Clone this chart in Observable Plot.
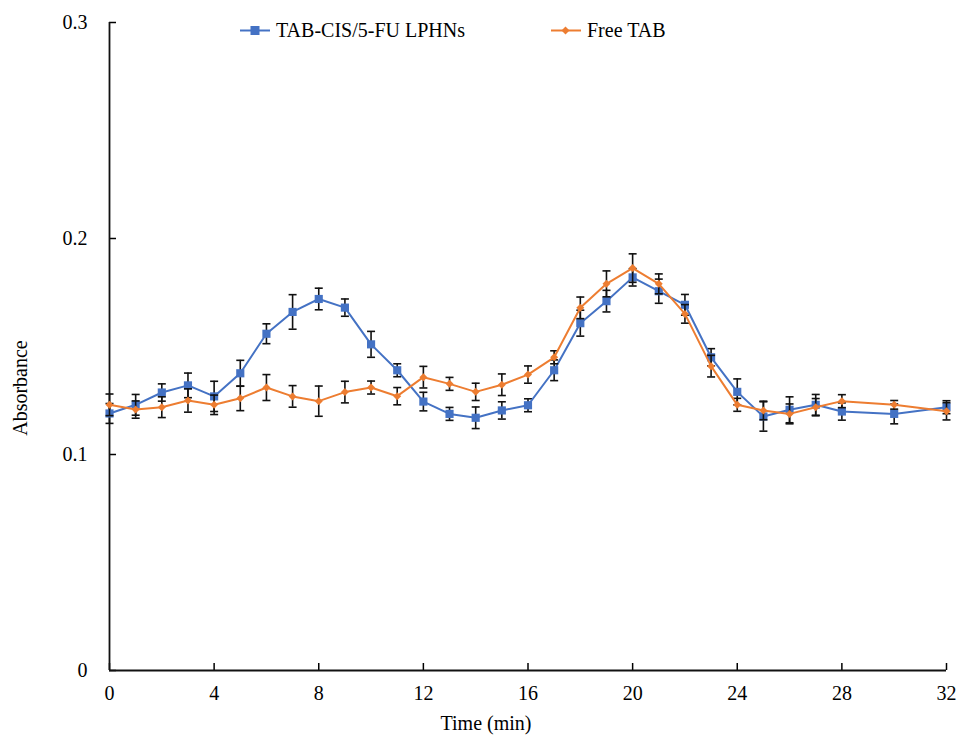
<!DOCTYPE html>
<html>
<head>
<meta charset="utf-8">
<script src="https://cdn.jsdelivr.net/npm/d3@7"></script>
<script src="https://cdn.jsdelivr.net/npm/@observablehq/plot@0.6"></script>
<style>
  html, body { margin: 0; padding: 0; background: #fff; overflow: hidden; }
  #wrap { position: relative; width: 959px; height: 738px; overflow: hidden; font-family: "Liberation Serif", "Times New Roman", serif; }
  #wrap > svg { position: absolute; left: 0; top: 0; z-index: 0; }
  #legend { position: absolute; top: 19px; left: 240px; z-index: 2; display: flex; align-items: center; font-size: 20px; color: #000; line-height: 22px; }
  .item { display: flex; align-items: center; }
  .item svg { margin-right: 6px; }
  #ylab { position: absolute; z-index: 2; left: 20px; top: 388px; font-size: 20px; color: #000; white-space: nowrap; transform: translate(-50%, -50%) rotate(-90deg); }
</style>
</head>
<body>
<div id="wrap"></div>
<script>
const time = [0,1,2,3,4,5,6,7,8,9,10,11,12,13,14,15,16,17,18,19,20,21,22,23,24,25,26,27,28,30,32];
const lphn = [0.119,0.123,0.1287,0.132,0.1269,0.1376,0.1559,0.166,0.172,0.168,0.151,0.139,0.1245,0.1188,0.117,0.1204,0.1228,0.139,0.1608,0.171,0.182,0.1756,0.1693,0.145,0.129,0.1176,0.1207,0.123,0.1199,0.1188,0.1219];
const lphnErr = [0.0046,0.0048,0.004,0.0057,0.007,0.006,0.0046,0.008,0.005,0.004,0.006,0.003,0.0043,0.003,0.005,0.004,0.003,0.0048,0.006,0.005,0.004,0.0056,0.0048,0.004,0.006,0.0068,0.006,0.0048,0.004,0.0046,0.003];
const freeTab = [0.123,0.1208,0.1219,0.125,0.123,0.126,0.131,0.1269,0.1247,0.1289,0.131,0.127,0.1358,0.1327,0.129,0.1323,0.137,0.145,0.1679,0.179,0.1863,0.179,0.1651,0.1409,0.123,0.1204,0.1188,0.1219,0.1247,0.123,0.120];
const freeTabErr = [0.005,0.004,0.0048,0.0054,0.0045,0.0057,0.006,0.005,0.007,0.005,0.003,0.004,0.005,0.003,0.004,0.005,0.004,0.003,0.005,0.006,0.0066,0.0046,0.0043,0.005,0.003,0.0043,0.0046,0.004,0.003,0.002,0.004];
const seriesNames = ["TAB-CIS/5-FU LPHNs", "Free TAB"];
const seriesColors = ["#4472C4", "#ED7D31"];
const xTicks = [0,4,8,12,16,20,24,28,32];
const yTicks = [0,0.1,0.2,0.3];
const yTickLabels = ["0","0.1","0.2","0.3"];
const xLabel = "Time (min)";
const yLabel = "Absorbance";

const mk = (vals, errs) => time.map((t, i) => ({t, v: vals[i], lo: vals[i] - errs[i], hi: vals[i] + errs[i]}));
const dA = mk(lphn, lphnErr);
const dB = mk(freeTab, freeTabErr);

const capSymbol = { draw(ctx, size) { const w = Math.sqrt(size / Math.PI); ctx.moveTo(-w, 0); ctx.lineTo(w, 0); } };

function errMarks(d) {
  return [
    Plot.ruleX(d, {x: "t", y1: "lo", y2: "hi", stroke: "#111", strokeWidth: 1.6}),
    Plot.dot(d, {x: "t", y: "lo", symbol: capSymbol, r: 4, stroke: "#111", strokeWidth: 1.6, fill: "none"}),
    Plot.dot(d, {x: "t", y: "hi", symbol: capSymbol, r: 4, stroke: "#111", strokeWidth: 1.6, fill: "none"})
  ];
}

const chart = Plot.plot({
  width: 959,
  height: 738,
  marginLeft: 109,
  marginRight: 13,
  marginTop: 22,
  marginBottom: 68,
  style: {fontFamily: "'Liberation Serif', 'Times New Roman', serif", fontSize: "20px", color: "#000", background: "#fff"},
  x: {domain: [0, 32]},
  y: {domain: [0, 0.3]},
  marks: [
    Plot.axisX(xTicks, {tickSize: -7, tickFormat: () => "", strokeWidth: 1.5, label: null}),
    Plot.axisX(xTicks, {tickSize: 0, tickPadding: 15, tickFormat: d => String(d), label: null, fontSize: 20}),
    Plot.axisY(yTicks, {tickSize: -7, tickFormat: () => "", strokeWidth: 1.5, label: null}),
    Plot.axisY(yTicks, {tickSize: 0, tickPadding: 22, tickFormat: d => yTickLabels[yTicks.indexOf(d)], label: null, fontSize: 20}),
    Plot.text([xLabel], {text: d => d, frameAnchor: "bottom", dx: -42, dy: 59, fontSize: 20, fill: "#000"}),
    Plot.ruleY([0], {stroke: "#111", strokeWidth: 1.8}),
    Plot.ruleX([0], {stroke: "#111", strokeWidth: 1.8}),
    ...errMarks(dA),
    Plot.line(dA, {x: "t", y: "v", stroke: seriesColors[0], strokeWidth: 2}),
    Plot.dot(dA, {x: "t", y: "v", symbol: "square", r: 4.6, fill: seriesColors[0], stroke: "none"}),
    ...errMarks(dB),
    Plot.line(dB, {x: "t", y: "v", stroke: seriesColors[1], strokeWidth: 2}),
    Plot.dot(dB, {x: "t", y: "v", symbol: "diamond2", r: 3.6, fill: seriesColors[1], stroke: "none"})
  ]
});
const wrap = document.getElementById("wrap");
wrap.appendChild(chart);

// y-axis title (HTML, rotated)
const ylab = document.createElement("div");
ylab.id = "ylab";
ylab.textContent = yLabel;
wrap.appendChild(ylab);

// legend (HTML, on top of the chart)
const legend = document.createElement("div");
legend.id = "legend";
const gaps = [0, 86];
seriesNames.forEach((name, i) => {
  const item = document.createElement("div");
  item.className = "item";
  item.style.marginLeft = gaps[i] + "px";
  const shape = i === 0
    ? `<rect x="10.5" y="6" width="9" height="9" fill="${seriesColors[i]}"/>`
    : `<polygon points="14.5,6.5 18.5,10.5 14.5,14.5 10.5,10.5" fill="${seriesColors[i]}"/>`;
  item.innerHTML = `<svg width="30" height="21"><line x1="0" x2="30" y1="10.5" y2="10.5" stroke="${seriesColors[i]}" stroke-width="2"/>${shape}</svg><span>${name}</span>`;
  legend.appendChild(item);
});
wrap.appendChild(legend);
</script>
</body>
</html>
